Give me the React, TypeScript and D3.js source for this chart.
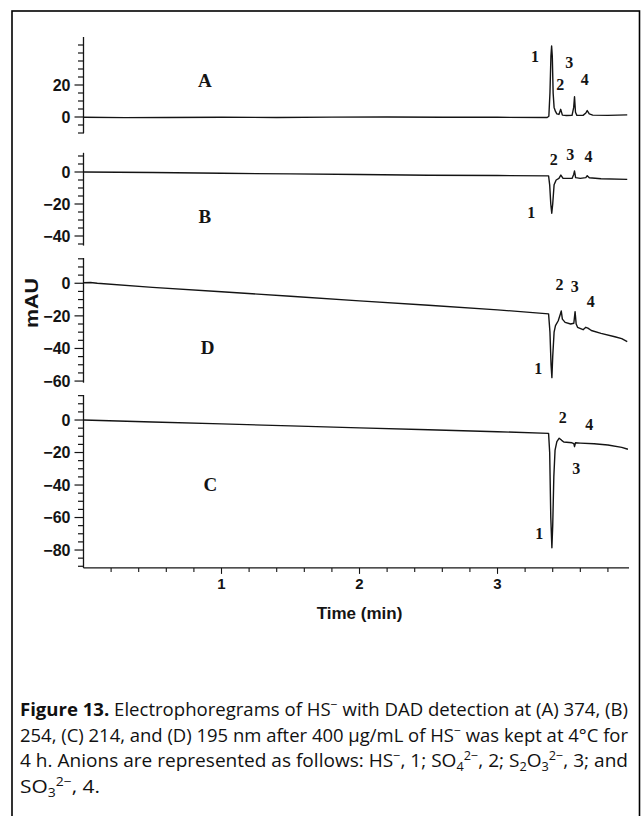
import React from "react";
import * as d3 from "d3";

// Electropherogram traces: [time (min), absorbance (mAU)]
const traceA: [number, number][] = [
  [0, -0.2], [0.3, -0.4], [0.6, -0.3], [1.0, -0.2], [1.4, -0.3], [1.8, -0.1],
  [2.2, 0.0], [2.6, -0.2], [3.0, -0.2], [3.36, -0.3], [3.372, 0.5], [3.38, 15],
  [3.387, 38], [3.392, 44.4], [3.397, 38], [3.403, 15], [3.41, 6], [3.42, 3.5],
  [3.43, 2.0], [3.445, 1.6], [3.458, 4.8], [3.47, 1.2], [3.5, 0.9], [3.54, 1.0],
  [3.552, 6], [3.558, 12.7], [3.565, 3], [3.575, 1.0], [3.62, 1.0], [3.64, 2.5],
  [3.65, 4.0], [3.665, 2.0], [3.69, 1.2], [3.8, 1.0], [3.94, 1.3],
];

const traceB: [number, number][] = [
  [0, 0], [0.5, -0.3], [1.0, -0.8], [1.5, -1.2], [2.0, -1.6], [2.5, -2.0],
  [3.0, -2.2], [3.37, -2.4], [3.378, -8], [3.386, -20], [3.393, -25.8],
  [3.4, -20], [3.41, -8], [3.425, -5], [3.445, -4], [3.459, -1.9], [3.475, -4],
  [3.54, -4], [3.552, -1.5], [3.558, 0.6], [3.566, -3.5], [3.6, -4.0],
  [3.64, -3.5], [3.65, -2.3], [3.665, -3.6], [3.75, -4.2], [3.94, -4.6],
];

const traceD: [number, number][] = [
  [0, 0.3], [0.05, 0.5], [0.1, 0.0], [0.5, -2.5], [1.0, -5.2], [1.5, -8],
  [2.0, -10.8], [2.5, -13.5], [3.0, -16.3], [3.37, -18.8], [3.38, -30],
  [3.388, -50], [3.394, -57.9], [3.4, -45], [3.41, -30], [3.42, -26],
  [3.44, -23], [3.455, -19], [3.462, -17], [3.47, -22], [3.49, -24],
  [3.53, -25], [3.553, -24.5], [3.562, -17.4], [3.57, -25], [3.58, -27],
  [3.62, -28.5], [3.64, -27], [3.655, -27.5], [3.68, -29], [3.75, -30.7],
  [3.85, -32.8], [3.9, -34], [3.94, -35.8],
];

const traceC: [number, number][] = [
  [0, 0], [0.5, -1.2], [1.0, -2.4], [1.5, -3.6], [2.0, -4.8], [2.5, -6.0],
  [3.0, -7.2], [3.37, -8.2], [3.378, -20], [3.386, -60], [3.394, -78.6],
  [3.4, -65], [3.408, -35], [3.417, -18.5], [3.43, -13.3], [3.447, -11.2],
  [3.465, -12.5], [3.48, -13.5], [3.54, -14], [3.553, -14.5], [3.558, -16.4],
  [3.565, -14], [3.6, -14.2], [3.7, -14.6], [3.8, -15.4], [3.9, -16.8],
  [3.945, -18],
];

// Peak numbers: [text, time, value at label] per panel
const labelsA: [string, number, number][] = [
  ["1", 3.272, 38], ["2", 3.455, 20.5], ["3", 3.52, 34], ["4", 3.632, 23.5],
];
const labelsB: [string, number, number][] = [
  ["2", 3.408, 8], ["3", 3.527, 11], ["4", 3.66, 9.5], ["1", 3.245, -25],
];
const labelsD: [string, number, number][] = [
  ["2", 3.45, -0.5], ["3", 3.56, -2], ["4", 3.675, -11], ["1", 3.295, -52],
];
const labelsC: [string, number, number][] = [
  ["2", 3.473, 1.5], ["4", 3.665, -2.5], ["3", 3.57, -30], ["1", 3.303, -70],
];

const xTicksMajor = [1, 2, 3];

const panels = [
  { name: "A", data: traceA, labels: labelsA, domain: [-10, 50] as [number, number], range: [133, 37] as [number, number], tickLo: -10, tickHi: 45, labeled: [0, 20], letterT: 0.88, letterV: 23 },
  { name: "B", data: traceB, labels: labelsB, domain: [-46, 12] as [number, number], range: [245.6, 152.8] as [number, number], tickLo: -45, tickHi: 10, labeled: [0, -20, -40], letterT: 0.88, letterV: -28 },
  { name: "D", data: traceD, labels: labelsD, domain: [-61, 15.5] as [number, number], range: [382.7, 258] as [number, number], tickLo: -60, tickHi: 15, labeled: [0, -20, -40, -60], letterT: 0.9, letterV: -39.5 },
  { name: "C", data: traceC, labels: labelsC, domain: [-91, 15.4] as [number, number], range: [567.9, 395] as [number, number], tickLo: -90, tickHi: 15, labeled: [0, -20, -40, -60, -80], letterT: 0.92, letterV: -39.5 },
];

const W = 641;
const H = 816;
const axisFont = "'Liberation Sans', Arial, sans-serif";
const serif = "'Liberation Serif', 'Times New Roman', serif";
const capFont = "'Open Sans', 'Noto Sans', sans-serif";

export default function App() {
  const x = d3.scaleLinear().domain([0, 3.96]).range([83.5, 630]);
  const xAxisY = 567.9;
  const minorX = d3.range(1, 20).map((i) => i * 0.2).filter((t) => !xTicksMajor.some((m) => Math.abs(m - t) < 1e-6));

  const ink = "#141414";

  return (
    <svg width={W} height={H} style={{ position: "absolute", left: 0, top: 0, background: "#fff" }}>
      <rect x={12} y={11} width={627.5} height={H} fill="none" stroke="#000" strokeWidth={1.6} />

      {panels.map((p) => {
        const y = d3.scaleLinear().domain(p.domain).range(p.range);
        const line = d3.line<[number, number]>().x((d) => x(d[0])).y((d) => y(d[1]));
        const ticks = d3.range(p.tickLo, p.tickHi + 0.1, 5);
        const ax = x(0);
        return (
          <g key={p.name}>
            <line x1={ax} x2={ax} y1={p.range[0]} y2={p.range[1]} stroke={ink} strokeWidth={1.3} />
            {ticks.map((v) => {
              const major = p.labeled.includes(v);
              return (
                <g key={v}>
                  <line x1={ax - (major ? 9 : 5.5)} x2={ax + 0.5} y1={y(v)} y2={y(v)} stroke={ink} strokeWidth={1.2} />
                  {major && (
                    <text x={ax - 13} y={y(v)} dy="0.36em" textAnchor="end" fontFamily={axisFont} fontWeight="bold" fontSize={16} fill={ink}>
                      {v < 0 ? "\u2212" + Math.abs(v) : String(v)}
                    </text>
                  )}
                </g>
              );
            })}
            <path d={line(p.data) ?? ""} fill="none" stroke={ink} strokeWidth={1.4} strokeLinejoin="round" />
            <text x={x(p.letterT)} y={y(p.letterV)} dy="0.35em" textAnchor="middle" fontFamily={serif} fontWeight="bold" fontSize={19} fill={ink}>
              {p.name}
            </text>
            {p.labels.map(([s, t, v], i) => (
              <text key={i} x={x(t)} y={y(v)} dy="0.35em" textAnchor="middle" fontFamily={serif} fontWeight="bold" fontSize={16} fill={ink}>
                {s}
              </text>
            ))}
          </g>
        );
      })}

      {/* time axis */}
      <line x1={x(0)} x2={629} y1={xAxisY} y2={xAxisY} stroke={ink} strokeWidth={1.3} />
      {minorX.map((t) => (
        <line key={t} x1={x(t)} x2={x(t)} y1={xAxisY} y2={xAxisY + 4} stroke={ink} strokeWidth={1.1} />
      ))}
      {xTicksMajor.map((t) => (
        <g key={t}>
          <line x1={x(t)} x2={x(t)} y1={xAxisY} y2={xAxisY + 6} stroke={ink} strokeWidth={1.1} />
          <text x={x(t)} y={589} textAnchor="middle" fontFamily={axisFont} fontWeight="bold" fontSize={15} fill={ink}>
            {t}
          </text>
        </g>
      ))}
      <text x={x(2)} y={619} textAnchor="middle" fontFamily={axisFont} fontWeight="bold" fontSize={17} fill={ink}>
        Time (min)
      </text>
      <text transform="translate(38,303) rotate(-90)" textAnchor="middle" fontFamily={axisFont} fontWeight="bold" fontSize={19} textLength={50} lengthAdjust="spacingAndGlyphs" fill={ink}>
        mAU
      </text>

      {/* caption */}
      <g fontFamily={capFont} fontSize={18} fill="#111">
        <text x={20} y={716} textLength={608} lengthAdjust="spacingAndGlyphs">
          <tspan fontWeight="bold">Figure 13.</tspan>
          <tspan> Electrophoregrams of HS</tspan>
          <tspan dy={-7} fontSize={12}>{"\u2212"}</tspan>
          <tspan dy={7}> with DAD detection at (A) 374, (B)</tspan>
        </text>
        <text x={20} y={741.5} textLength={608} lengthAdjust="spacingAndGlyphs">
          <tspan>254, (C) 214, and (D) 195 nm after 400 µg/mL of HS</tspan>
          <tspan dy={-7} fontSize={12}>{"\u2212"}</tspan>
          <tspan dy={7}> was kept at 4°C for</tspan>
        </text>
        <text x={20} y={767} textLength={608} lengthAdjust="spacingAndGlyphs">
          <tspan>4 h. Anions are represented as follows: HS</tspan>
          <tspan dy={-7} fontSize={12}>{"\u2212"}</tspan>
          <tspan dy={7}>, 1; SO</tspan>
          <tspan dy={4} fontSize={12}>4</tspan>
          <tspan dy={-11} fontSize={12}>{"2\u2212"}</tspan>
          <tspan dy={7}>, 2; S</tspan>
          <tspan dy={4} fontSize={12}>2</tspan>
          <tspan dy={-4}>O</tspan>
          <tspan dy={4} fontSize={12}>3</tspan>
          <tspan dy={-11} fontSize={12}>{"2\u2212"}</tspan>
          <tspan dy={7}>, 3; and</tspan>
        </text>
        <text x={20} y={792.5} textLength={80} lengthAdjust="spacingAndGlyphs">
          <tspan>SO</tspan>
          <tspan dy={4} fontSize={12}>3</tspan>
          <tspan dy={-11} fontSize={12}>{"2\u2212"}</tspan>
          <tspan dy={7}>, 4.</tspan>
        </text>
      </g>
    </svg>
  );
}
